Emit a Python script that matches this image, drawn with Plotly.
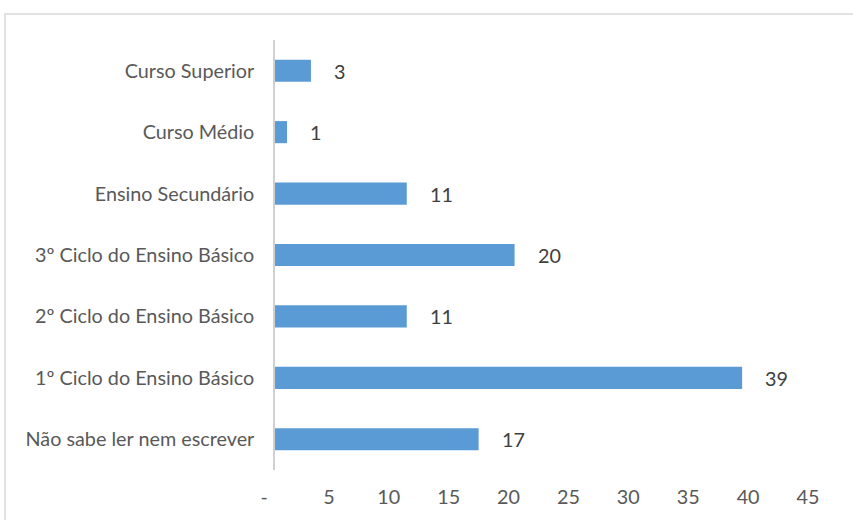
import plotly.graph_objects as go

categories = ["Não sabe ler nem escrever", "1º Ciclo do Ensino Básico", "2º Ciclo do Ensino Básico",
              "3º Ciclo do Ensino Básico", "Ensino Secundário", "Curso Médio", "Curso Superior"]
values = [17, 39, 11, 20, 11, 1, 3]
tick_vals = [0, 5, 10, 15, 20, 25, 30, 35, 40, 45]
tick_text = ["-\u2002", "5", "10", "15", "20", "25", "30", "35", "40", "45"]

W, H = 853, 520
L, T = 275, 40
R = W - 814
B = H - 472

FONT = "Lato"
FS = 19.8

fig = go.Figure(go.Bar(
    x=values, y=categories, orientation="h",
    marker=dict(color="#5B9BD5", line=dict(width=0)),
    width=0.36, hoverinfo="skip",
))

for v, c in zip(values, categories):
    fig.add_annotation(x=v, y=c, text=str(v), showarrow=False, xanchor="left",
                       xshift=21, font=dict(size=FS, color="#404040", family=FONT))

pw = W - L - R
ph = H - T - B
fig.add_shape(type="rect", xref="paper", yref="paper",
              x0=(5 - L) / pw, x1=(W + 10 - L) / pw,
              y0=(-20 - B) / ph, y1=(H - 14 - B) / ph,
              line=dict(color="#D9D9D9", width=1.5), layer="below")

fig.update_layout(
    width=W, height=H,
    margin=dict(l=L, r=R, t=T, b=B),
    plot_bgcolor="white", paper_bgcolor="white",
    showlegend=False,
    font=dict(family=FONT, size=FS, color="#595959"),
    xaxis=dict(range=[0, 45], tickvals=tick_vals, ticktext=tick_text,
               showgrid=False, zeroline=False, showline=False, ticks="",
               ticklabelstandoff=13, ticklabelshift=-6,
               tickfont=dict(size=FS, color="#595959")),
    yaxis=dict(categoryorder="array", categoryarray=categories, showgrid=False,
               zeroline=False, showline=True, linecolor="#D0D0D0", linewidth=1.5,
               ticks="", ticklabelstandoff=15, tickfont=dict(size=FS, color="#595959")),
)

fig.write_html("out.html", config={"displayModeBar": False},
               post_script="document.body.style.margin='0px';")
